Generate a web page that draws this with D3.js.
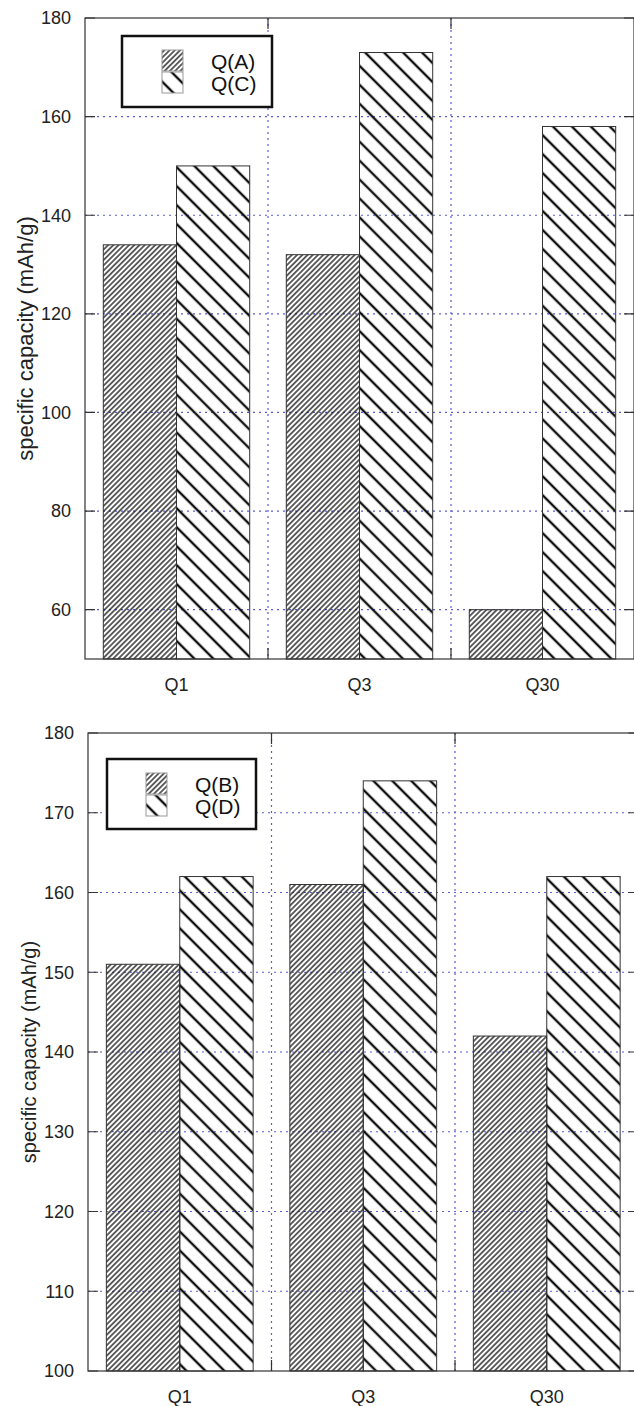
<!DOCTYPE html>
<html>
<head>
<meta charset="utf-8">
<script src="https://cdn.jsdelivr.net/npm/d3@7"></script>
<style>
  body { margin: 0; background: #fff; }
  svg { display: block; font-family: 'Liberation Sans', Arial, Helvetica, sans-serif; }
</style>
</head>
<body>
<svg id="chart" width="634" height="1406"></svg>
<script>
// data
const categories = ['Q1', 'Q3', 'Q30']

const topSeries = ['Q(A)', 'Q(C)']
const topA = [134, 132, 60]
const topC = [150, 173, 158]
const topTicks = [60, 80, 100, 120, 140, 160, 180]

const bottomSeries = ['Q(B)', 'Q(D)']
const bottomB = [151, 161, 142]
const bottomD = [162, 174, 162]
const bottomTicks = [100, 110, 120, 130, 140, 150, 160, 170, 180]

const yLabel = 'specific capacity (mAh/g)'

const svg = d3.select('#chart')
svg.append('rect').attr('width', 634).attr('height', 1406).attr('fill', '#fff')

// hatch patterns
const defs = svg.append('defs')
function hatch(id, spacing, width, angle) {
  defs
    .append('pattern')
    .attr('id', id)
    .attr('patternUnits', 'userSpaceOnUse')
    .attr('width', spacing)
    .attr('height', 20)
    .attr('patternTransform', `rotate(${angle})`)
    .append('line')
    .attr('x1', spacing / 2)
    .attr('x2', spacing / 2)
    .attr('y1', 0)
    .attr('y2', 20)
    .attr('stroke', '#111')
    .attr('stroke-width', width)
}
hatch('fine', 3.7, 1.3, 45)
hatch('coarse', 13.4, 2.4, -45)
const fills = ['url(#fine)', 'url(#coarse)']

function panel(opts) {
  const { left, right, top, bottom, domain, ticks, series, values, labelSize, legendBox } = opts

  const x = d3.scaleBand(categories, [left, right]).paddingInner(0.2).paddingOuter(0.1)
  const xs = d3.scaleBand(series, [0, x.bandwidth()])
  const y = d3.scaleLinear(domain, [bottom, top])

  const g = svg.append('g')

  // dotted grid
  const gridY = ticks.filter((t) => t > domain[0] && t < domain[1])
  g.append('g')
    .selectAll('line')
    .data(gridY)
    .join('line')
    .attr('x1', left)
    .attr('x2', right)
    .attr('y1', (d) => y(d))
    .attr('y2', (d) => y(d))
    .attr('stroke', '#5b5bd6')
    .attr('stroke-width', 1.2)
    .attr('stroke-dasharray', '2,4')

  const mids = categories.slice(1).map((c) => x(c) - (x.step() * x.paddingInner()) / 2)
  g.append('g')
    .selectAll('line')
    .data(mids)
    .join('line')
    .attr('x1', (d) => d)
    .attr('x2', (d) => d)
    .attr('y1', top)
    .attr('y2', bottom)
    .attr('stroke', '#5b5bd6')
    .attr('stroke-width', 1.2)
    .attr('stroke-dasharray', '2,4')

  // bars
  const rows = []
  categories.forEach((c, i) => {
    series.forEach((s, j) => rows.push({ c, s, j, v: values[j][i] }))
  })
  g.append('g')
    .selectAll('rect')
    .data(rows)
    .join('rect')
    .attr('x', (d) => x(d.c) + xs(d.s))
    .attr('width', xs.bandwidth())
    .attr('y', (d) => y(d.v))
    .attr('height', (d) => y(domain[0]) - y(d.v))
    .attr('fill', (d) => fills[d.j])
    .attr('stroke', '#333')
    .attr('stroke-width', 1)

  // frame
  g.append('rect')
    .attr('x', left)
    .attr('y', top)
    .attr('width', right - left)
    .attr('height', bottom - top)
    .attr('fill', 'none')
    .attr('stroke', '#333')
    .attr('stroke-width', 1.2)

  // inward y ticks on both sides
  g.append('g')
    .selectAll('path')
    .data(ticks)
    .join('path')
    .attr('d', (d) => `M${left},${y(d)}h10M${right},${y(d)}h-10`)
    .attr('stroke', '#333')
    .attr('stroke-width', 1.2)

  // x ticks at category boundaries
  g.append('g')
    .selectAll('path')
    .data(mids)
    .join('path')
    .attr('d', (d) => `M${d},${bottom}v-11M${d},${top}v11`)
    .attr('stroke', '#333')
    .attr('stroke-width', 1.2)

  // tick labels
  g.append('g')
    .selectAll('text')
    .data(ticks)
    .join('text')
    .attr('x', left - 14)
    .attr('y', (d) => y(d))
    .attr('dy', '0.35em')
    .attr('text-anchor', 'end')
    .attr('font-size', 18)
    .attr('fill', '#222')
    .text((d) => d)

  g.append('g')
    .selectAll('text')
    .data(categories)
    .join('text')
    .attr('x', (d) => x(d) + x.bandwidth() / 2)
    .attr('y', bottom + 32)
    .attr('text-anchor', 'middle')
    .attr('font-size', 18)
    .attr('fill', '#222')
    .text((d) => d)

  g.append('text')
    .attr('transform', `translate(${opts.labelX},${(top + bottom) / 2}) rotate(-90)`)
    .attr('text-anchor', 'middle')
    .attr('dy', '0.35em')
    .attr('font-size', labelSize)
    .attr('fill', '#222')
    .text(yLabel)

  // legend
  const lg = g.append('g').attr('transform', `translate(${legendBox.x},${legendBox.y})`)
  lg.append('rect')
    .attr('width', legendBox.w)
    .attr('height', legendBox.h)
    .attr('fill', '#fff')
    .attr('stroke', '#111')
    .attr('stroke-width', 2.5)
  const item = lg
    .selectAll('g.item')
    .data(series)
    .join('g')
    .attr('class', 'item')
    .attr('transform', (d, i) => `translate(${legendBox.sx},${legendBox.sy + i * 22})`)
  item
    .append('rect')
    .attr('width', 21)
    .attr('height', 21)
    .attr('fill', (d, i) => fills[i])
    .attr('stroke', '#999')
    .attr('stroke-width', 1)
  item
    .append('text')
    .attr('x', legendBox.tx)
    .attr('y', 19)
    .attr('font-size', 21)
    .attr('fill', '#111')
    .text((d) => d)
}

panel({
  left: 85,
  right: 634,
  top: 18,
  bottom: 659,
  domain: [50, 180],
  ticks: topTicks,
  series: topSeries,
  values: [topA, topC],
  labelX: 25,
  labelSize: 22,
  legendBox: { x: 122, y: 36, w: 150, h: 71, sx: 40, sy: 14, tx: 49 },
})

panel({
  left: 88,
  right: 638.5,
  top: 733,
  bottom: 1371,
  domain: [100, 180],
  ticks: bottomTicks,
  series: bottomSeries,
  values: [bottomB, bottomD],
  labelX: 29,
  labelSize: 20,
  legendBox: { x: 107, y: 759, w: 149, h: 70, sx: 39, sy: 14, tx: 49 },
})
</script>
</body>
</html>
